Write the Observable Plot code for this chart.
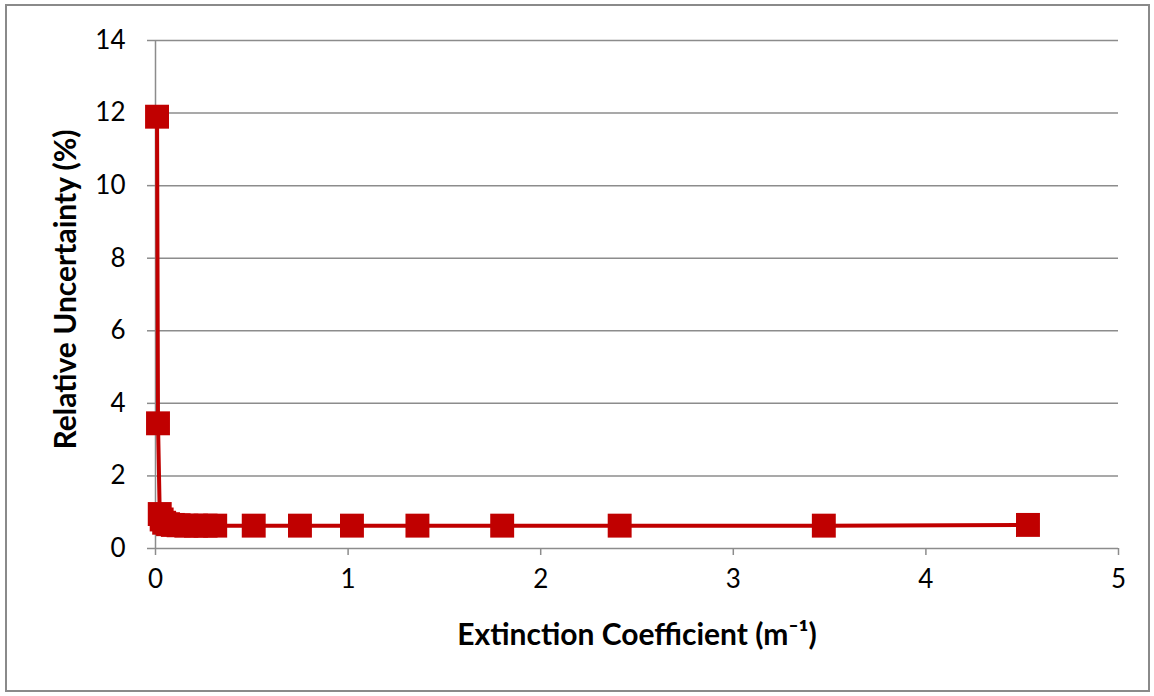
<!DOCTYPE html>
<html>
<head>
<meta charset="utf-8">
<script src="https://cdn.jsdelivr.net/npm/d3@7"></script>
<script src="https://cdn.jsdelivr.net/npm/@observablehq/plot@0.6"></script>
<style>
  html, body { margin: 0; padding: 0; background: #fff; }
  #wrap { position: relative; width: 1154px; height: 696px; overflow: hidden; }
  #frame { position: absolute; left: 5px; top: 4px; width: 1141px; height: 684px; border: 2px solid #8a8a8a; box-sizing: content-box; pointer-events: none; }
  #chart { position: absolute; left: 0; top: 0; }
</style>
</head>
<body>
<div id="wrap"><div id="chart"></div><div id="frame"></div></div>
<script>
// Extinction coefficient (m^-1)
const extinction = [0.008, 0.013, 0.022, 0.032, 0.045, 0.065, 0.09, 0.12, 0.16, 0.21, 0.26, 0.31, 0.51, 0.75, 1.02, 1.36, 1.80, 2.41, 3.47, 4.53];
// Relative uncertainty (%)
const uncertainty = [11.9, 3.45, 0.95, 0.8, 0.71, 0.67, 0.65, 0.64, 0.63, 0.63, 0.63, 0.63, 0.63, 0.63, 0.63, 0.63, 0.63, 0.63, 0.63, 0.65];
const xTicks = [0, 1, 2, 3, 4, 5];
const yTicks = [0, 2, 4, 6, 8, 10, 12, 14];

const data = extinction.map((x, i) => ({x, y: uncertainty[i]}));
const red = "#C00000";
const gray = "#8c8c8c";
const font = "Lato, 'Open Sans', sans-serif";

const chart = Plot.plot({
  width: 1154,
  height: 696,
  marginLeft: 155,
  marginRight: 36,
  marginTop: 40,
  marginBottom: 148,
  style: {fontFamily: font, fontSize: "26px", background: "transparent", color: "#000"},
  x: {domain: [0, 5], ticks: xTicks},
  y: {domain: [0, 14], ticks: yTicks},
  marks: [
    Plot.ruleY(yTicks.filter(d => d > 0), {stroke: gray, strokeWidth: 1.5}),
    Plot.ruleX([0], {stroke: gray, strokeWidth: 1.5}),
    Plot.ruleY([0], {stroke: gray, strokeWidth: 1.5}),
    Plot.axisY({ticks: yTicks, tickSize: 8, tickPadding: 22, fontSize: 26, tickFormat: d => String(d), stroke: gray, strokeWidth: 1.5, label: null}),
    Plot.axisX({ticks: xTicks, tickSize: 7, tickPadding: 14, fontSize: 26, tickFormat: d => String(d), stroke: gray, strokeWidth: 1.5, label: null}),
    Plot.line(data, {x: "x", y: "y", stroke: red, strokeWidth: 4}),
    Plot.dot(data, {x: "x", y: "y", symbol: "square", r: 13.5, fill: red, stroke: "none"}),
    Plot.text(["Extinction Coefficient (m⁻¹)"], {frameAnchor: "bottom", dy: 96, fontSize: 30, fontWeight: "bold", text: d => d}),
    Plot.text(["Relative Uncertainty (%)"], {frameAnchor: "left", textAnchor: "middle", dx: -89, dy: -5, rotate: -90, fontSize: 30, fontWeight: "bold", text: d => d})
  ]
});
document.getElementById("chart").appendChild(chart);
</script>
</body>
</html>
